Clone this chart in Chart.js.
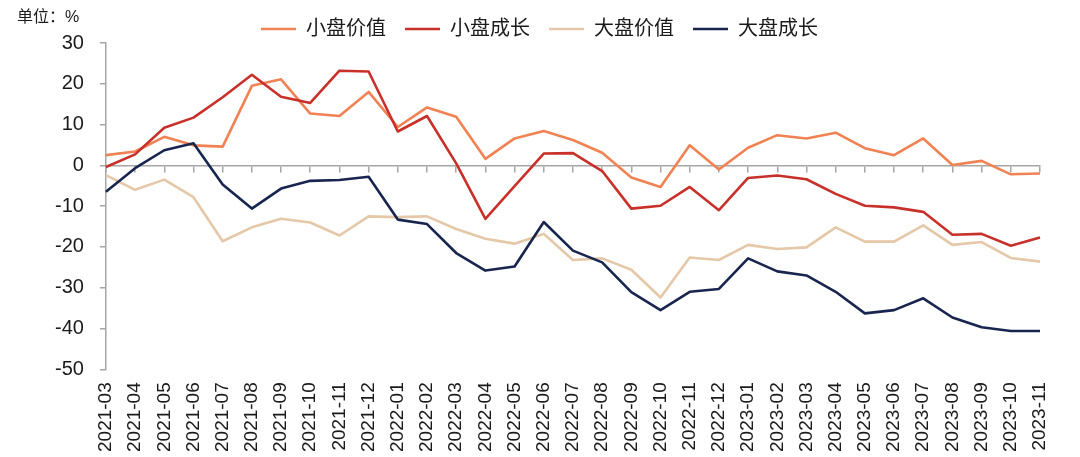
<!DOCTYPE html>
<html><head><meta charset="utf-8">
<script src="https://cdn.jsdelivr.net/npm/chart.js@4/dist/chart.umd.min.js"></script>
<style>html,body{margin:0;padding:0;background:#fff}#wrap{width:1080px;height:457px;position:relative}</style>
</head><body><div id="wrap"><canvas id="c"></canvas></div>
<script>
const FONT = "'Liberation Sans', 'Noto Sans CJK SC', sans-serif";
const unitLabel = '单位：%';
const categories = ['2021-03','2021-04','2021-05','2021-06','2021-07','2021-08','2021-09','2021-10','2021-11','2021-12',
  '2022-01','2022-02','2022-03','2022-04','2022-05','2022-06','2022-07','2022-08','2022-09','2022-10','2022-11','2022-12',
  '2023-01','2023-02','2023-03','2023-04','2023-05','2023-06','2023-07','2023-08','2023-09','2023-10','2023-11'];
const seriesNames = ['小盘价值','小盘成长','大盘价值','大盘成长'];
const smallValue = [2.5,3.4,7.0,4.9,4.6,19.5,21.1,12.7,12.1,18.0,9.4,14.2,11.9,1.6,6.6,8.4,6.2,3.1,-3.0,-5.3,4.9,-1.0,4.3,7.4,6.6,8.0,4.2,2.5,6.6,0.1,1.1,-2.2,-2.0];
const smallGrowth = [-0.4,2.7,9.2,11.7,16.7,22.2,16.8,15.3,23.2,23.0,8.3,12.1,0.5,-13.1,-5.1,2.9,3.0,-1.4,-10.6,-9.9,-5.3,-11.0,-3.1,-2.5,-3.4,-7.0,-9.9,-10.3,-11.4,-17.0,-16.8,-19.7,-17.7];
const largeValue = [-2.4,-6.0,-3.5,-7.8,-18.6,-15.2,-13.1,-14.0,-17.2,-12.5,-12.7,-12.5,-15.6,-18.0,-19.2,-16.8,-23.2,-22.8,-25.6,-32.4,-22.6,-23.2,-19.5,-20.5,-20.1,-15.2,-18.7,-18.7,-14.7,-19.5,-18.8,-22.7,-23.6];
const largeGrowth = [-6.5,-0.7,3.7,5.4,-4.7,-10.6,-5.7,-3.8,-3.6,-2.8,-13.3,-14.4,-21.5,-25.8,-24.8,-13.9,-20.9,-23.8,-31.1,-35.5,-31.0,-30.3,-22.8,-26.0,-27.0,-31.0,-36.3,-35.5,-32.6,-37.3,-39.7,-40.6,-40.6];
const yMin = -50, yMax = 30, yStep = 10;

const colors = ['#F08253','#C8302A','#E4C8A7','#18254F'];
const seriesData = [smallValue, smallGrowth, largeValue, largeGrowth];

const unitPlugin = {
  id: 'unitLabel',
  afterDraw(chart) {
    const c = chart.ctx;
    c.save();
    c.font = '16px ' + FONT;
    c.fillStyle = '#1a1a1a';
    c.textBaseline = 'middle';
    c.textAlign = 'left';
    c.fillText(unitLabel, 17, 18);
    c.restore();
  }
};

new Chart(document.getElementById('c'), {
  type: 'line',
  data: {
    labels: categories,
    datasets: seriesNames.map((n, i) => ({
      label: n,
      data: seriesData[i],
      borderColor: colors[i],
      backgroundColor: colors[i],
      borderWidth: 2.6,
      pointRadius: 0,
      tension: 0,
      fill: false,
      order: 4 - i,
      borderJoinStyle: 'round'
    }))
  },
  options: {
    responsive: true,
    maintainAspectRatio: false,
    animation: false,
    layout: { padding: { left: 39, right: 40, top: 0, bottom: -8 } },
    plugins: {
      legend: {
        display: true,
        position: 'top',
        maxHeight: 43,
        labels: {
          usePointStyle: true,
          pointStyle: 'line',
          pointStyleWidth: 35,
          boxHeight: 20,
          padding: 19,
          color: '#1a1a1a',
          font: { size: 20, family: FONT },
          sort: (a, b) => a.datasetIndex - b.datasetIndex
        }
      },
      tooltip: { enabled: false }
    },
    scales: {
      x: {
        type: 'category',
        position: 'bottom',
        offset: false,
        grid: { display: false, drawTicks: false },
        border: { display: false },
        ticks: { minRotation: 90, maxRotation: 90, autoSkip: false, padding: 13, color: '#1a1a1a', font: { size: 19, family: FONT } }
      },
      xZero: {
        type: 'category',
        labels: categories,
        position: { y: 0 },
        offset: false,
        grid: { drawOnChartArea: false, drawTicks: true, tickLength: 6, color: '#a6a6a6', lineWidth: 1.5 },
        border: { display: true, color: '#a6a6a6', width: 1.5 },
        ticks: { display: false }
      },
      y: {
        min: yMin, max: yMax,
        ticks: { stepSize: yStep, padding: 16, color: '#1a1a1a', font: { size: 20, family: FONT } },
        grid: { drawOnChartArea: false, drawTicks: true, tickLength: 6, color: '#a6a6a6', lineWidth: 1.5 },
        border: { display: true, color: '#a6a6a6', width: 1.5 }
      }
    }
  },
  plugins: [unitPlugin]
});
</script></body></html>
